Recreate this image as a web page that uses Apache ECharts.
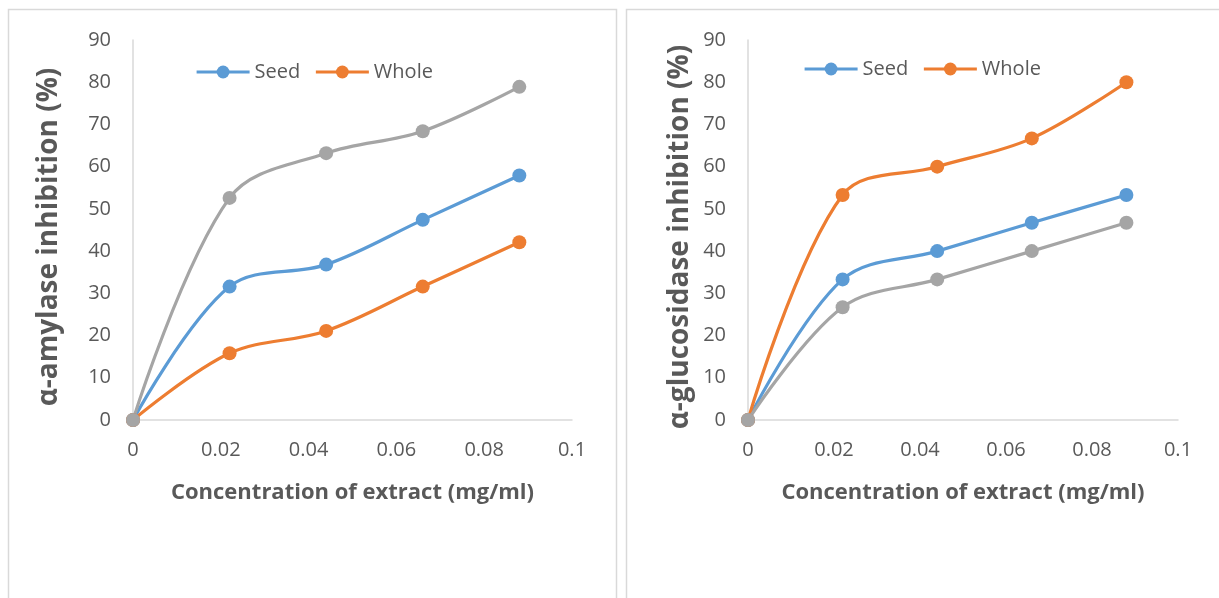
<!DOCTYPE html>
<html>
<head>
<meta charset="UTF-8">
<title>Inhibition charts</title>
<script src="https://cdn.jsdelivr.net/npm/echarts@6/dist/echarts.min.js"></script>
<style>
html, body { margin: 0; padding: 0; background: #fff; }
#main { width: 1219px; height: 598px; }
</style>
</head>
<body>
<div id="main"></div>
<script type="text/javascript">
// concentration of extract (mg/ml)
var conc = [0, 0.022, 0.044, 0.066, 0.088];

// alpha-amylase inhibition (%)
var amylaseSeed  = [0, 31.6, 36.8, 47.4, 57.9];
var amylaseWhole = [0, 15.8, 21.1, 31.6, 42.1];
var amylaseThird = [0, 52.6, 63.2, 68.4, 78.9];

// alpha-glucosidase inhibition (%)
var glucoSeed  = [0, 33.3, 40.0, 46.7, 53.3];
var glucoWhole = [0, 53.3, 60.0, 66.7, 80.0];
var glucoThird = [0, 26.7, 33.3, 40.0, 46.7];

var legendNames = ['Seed', 'Whole'];

var blue = '#5B9BD5', orange = '#ED7D31', gray = '#A5A5A5';
var txt = '#595959', axisCol = '#D9D9D9';
var font = 'Open Sans';

function pairs(ys) {
    var out = [];
    for (var i = 0; i < conc.length; i++) out.push([conc[i], ys[i]]);
    return out;
}

function line(name, color, ys, idx) {
    return {
        name: name,
        type: 'line',
        xAxisIndex: idx,
        yAxisIndex: idx,
        data: pairs(ys),
        smooth: 0.35,
        symbol: 'circle',
        symbolSize: 14,
        showSymbol: true,
        lineStyle: { color: color, width: 3.2 },
        itemStyle: { color: color },
        emphasis: { disabled: true }
    };
}

function xAx(idx) {
    return {
        type: 'value', gridIndex: idx,
        min: 0, max: 0.1, interval: 0.02,
        name: 'Concentration of extract (mg/ml)',
        nameLocation: 'middle', nameGap: 62,
        nameTextStyle: { fontFamily: font, fontWeight: 'bold', fontSize: 22, color: txt },
        axisLine: { show: true, lineStyle: { color: axisCol, width: 1.5 } },
        axisTick: { show: false },
        splitLine: { show: false },
        axisLabel: { fontFamily: font, fontSize: 20, color: txt, margin: 20 }
    };
}

function yAx(idx, name, gap) {
    return {
        type: 'value', gridIndex: idx,
        min: 0, max: 90, interval: 10,
        name: name,
        nameLocation: 'middle', nameGap: gap, nameRotate: 90,
        nameTextStyle: { fontFamily: font, fontWeight: 'bold', fontSize: 28, color: txt, padding: [0, 14, 0, 0] },
        axisLine: { show: true, lineStyle: { color: axisCol, width: 1.5 } },
        axisTick: { show: false },
        splitLine: { show: false },
        axisLabel: { fontFamily: font, fontSize: 20, color: txt, margin: 22 }
    };
}

function legendAt(left, top) {
    return {
        data: legendNames,
        left: left, top: top,
        itemWidth: 53, itemHeight: 16, itemGap: 14,
        lineStyle: { width: 3.2 },
        textStyle: { fontFamily: font, fontSize: 20, color: txt, padding: [0, 0, 0, 0] }
    };
}

var myChart = echarts.init(document.getElementById('main'));

var option = {
    backgroundColor: '#fff',
    animation: false,
    graphic: [
        { type: 'rect', shape: { x: 8.5, y: 9.5, width: 608, height: 620 },
          style: { fill: 'none', stroke: axisCol, lineWidth: 1.5 }, silent: true },
        { type: 'rect', shape: { x: 626.5, y: 9.5, width: 700, height: 620 },
          style: { fill: 'none', stroke: axisCol, lineWidth: 1.5 }, silent: true }
    ],
    legend: [legendAt(190, 57), legendAt(798, 54)],
    grid: [
        { left: 133, top: 40, width: 439, height: 380 },
        { left: 748, top: 40, width: 430, height: 380 }
    ],
    xAxis: [xAx(0), xAx(1)],
    yAxis: [
        yAx(0, 'α-amylase inhibition (%)', 70),
        yAx(1, 'α-glucosidase inhibition (%)', 54)
    ],
    series: [
        line('Seed', blue, amylaseSeed, 0),
        line('Whole', orange, amylaseWhole, 0),
        line('Series3', gray, amylaseThird, 0),
        line('Seed', blue, glucoSeed, 1),
        line('Whole', orange, glucoWhole, 1),
        line('Series3', gray, glucoThird, 1)
    ]
};

myChart.setOption(option);
</script>
</body>
</html>
